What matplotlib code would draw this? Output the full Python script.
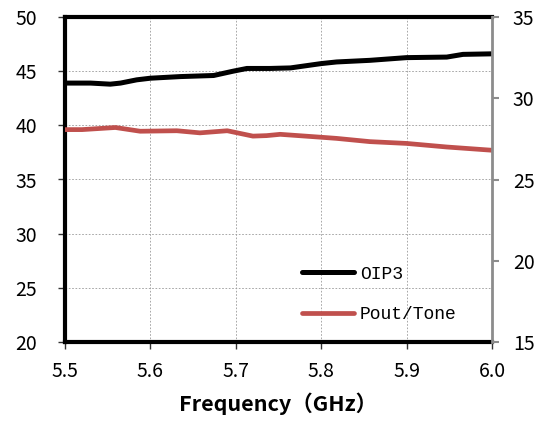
import matplotlib
matplotlib.use('Agg')
import matplotlib.pyplot as plt

plt.rcParams['font.family'] = ['Noto Sans CJK SC', 'DejaVu Sans']

# OIP3 (left axis, dBm)
oip3_freq = [5.5, 5.53, 5.553, 5.565, 5.584, 5.6, 5.635, 5.674, 5.697, 5.713, 5.74,
             5.764, 5.8, 5.818, 5.857, 5.9, 5.947, 5.966, 6.0]
oip3_val = [43.9, 43.9, 43.8, 43.9, 44.2, 44.35, 44.5, 44.6, 45.0, 45.25, 45.25,
            45.3, 45.7, 45.85, 46.0, 46.25, 46.3, 46.55, 46.6]

# Pout/Tone (right axis, dBm)
pout_freq = [5.5, 5.52, 5.559, 5.588, 5.631, 5.658, 5.69, 5.72, 5.736, 5.752,
             5.8, 5.818, 5.857, 5.9, 5.947, 6.0]
pout_val = [28.07, 28.07, 28.2, 27.97, 28.0, 27.87, 28.0, 27.67, 27.7, 27.78,
            27.6, 27.53, 27.33, 27.22, 27.0, 26.8]

x_ticks = [5.5, 5.6, 5.7, 5.8, 5.9, 6.0]
left_ticks = [20, 25, 30, 35, 40, 45, 50]
right_ticks = [15, 20, 25, 30, 35]

black = '#000000'
red = '#c0504d'

fig = plt.figure(figsize=(5.4, 4.23), dpi=100)
ax = fig.add_axes([65 / 540, 1 - 342 / 423, (492 - 65) / 540, (342 - 17) / 423])
ax2 = ax.twinx()

l1, = ax.plot(oip3_freq, oip3_val, color=black, lw=3.6, solid_capstyle='round', label='OIP3')
l2, = ax2.plot(pout_freq, pout_val, color=red, lw=3.4, solid_capstyle='round', label='Pout/Tone')

ax.set_xlim(5.5, 6.0)
ax.set_ylim(20, 50)
ax2.set_ylim(15, 35)
ax.set_xticks(x_ticks)
ax.set_xticklabels([f'{v:.1f}' for v in x_ticks])
ax.set_yticks(left_ticks)
ax2.set_yticks(right_ticks)

ax.grid(True, color='#999999', ls=(0, (2, 2)), lw=0.6)
ax.set_axisbelow(True)

for s in ['left', 'bottom', 'top']:
    ax.spines[s].set_linewidth(3)
    ax.spines[s].set_color(black)
ax.spines['right'].set_visible(False)
for s in ['left', 'bottom', 'top']:
    ax2.spines[s].set_visible(False)
ax2.spines['right'].set_linewidth(2)
ax2.spines['right'].set_color('#8c8c8c')

ax.tick_params(axis='y', direction='out', length=5, width=1, color='#333333',
               labelsize=14, pad=15)
ax.tick_params(axis='x', direction='out', length=5, width=1, color='#333333',
               labelsize=14, pad=9)
ax2.tick_params(axis='y', direction='out', length=5, width=1.5, color='#8c8c8c',
                labelsize=14, pad=10)

ax.set_xlabel('Frequency（GHz）', fontsize=15.5, fontweight='bold', labelpad=7)

ax.legend([l1, l2], ['OIP3', 'Pout/Tone'], loc='lower left', bbox_to_anchor=(0.517, 0.008),
          frameon=False, handlelength=2.9, handletextpad=0.3, labelspacing=1.3,
          prop={'family': ['Liberation Mono'], 'size': 13})

fig.savefig('out.png', dpi=100)
